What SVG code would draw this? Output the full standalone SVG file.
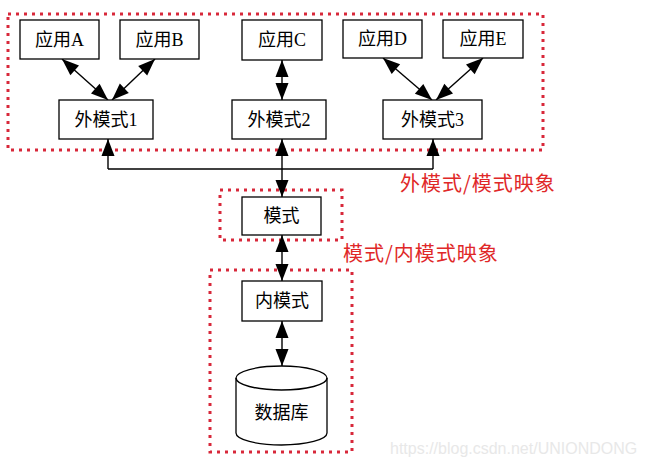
<svg xmlns="http://www.w3.org/2000/svg" width="650" height="466" viewBox="0 0 650 466">
<style>
.box{fill:#fff;stroke:#000;stroke-width:1.3}
.grp{fill:none;stroke:#d8283a;stroke-width:3;stroke-dasharray:3 5}
.t{font-family:"Liberation Serif","Noto Sans CJK SC",serif;font-size:18px;fill:#000;text-anchor:middle;dominant-baseline:central}
.r{font-family:"Noto Sans CJK SC",sans-serif;font-size:20px;letter-spacing:1px;fill:#e02828}
.ln{stroke:#000;stroke-width:1.4;fill:none}
</style>
<defs>
<marker id="ah" markerUnits="userSpaceOnUse" markerWidth="18" markerHeight="14" refX="17" refY="7" orient="auto-start-reverse" overflow="visible">
<path d="M0,0.5 L17,7 L0,13.5 Z" fill="#000"/>
</marker>
</defs>
<g id="groups">
<rect class="grp" x="8" y="14" width="535" height="136"/>
<rect class="grp" x="220" y="190" width="122" height="50"/>
<rect class="grp" x="210" y="270" width="142" height="182"/>
</g>
<g id="connectors">
<line class="ln" x1="62" y1="59" x2="108" y2="100" marker-start="url(#ah)" marker-end="url(#ah)"/>
<line class="ln" x1="155" y1="59" x2="112" y2="100" marker-start="url(#ah)" marker-end="url(#ah)"/>
<line class="ln" x1="282" y1="60" x2="282" y2="100" marker-start="url(#ah)" marker-end="url(#ah)"/>
<line class="ln" x1="383" y1="58" x2="432" y2="100" marker-start="url(#ah)" marker-end="url(#ah)"/>
<line class="ln" x1="483" y1="58" x2="436" y2="100" marker-start="url(#ah)" marker-end="url(#ah)"/>
<path class="ln" d="M108,169 H433"/>
<line class="ln" x1="108" y1="169" x2="108" y2="139" marker-end="url(#ah)"/>
<line class="ln" x1="433" y1="169" x2="433" y2="139" marker-end="url(#ah)"/>
<line class="ln" x1="282" y1="139" x2="282" y2="197" marker-start="url(#ah)" marker-end="url(#ah)"/>
<line class="ln" x1="282" y1="235" x2="282" y2="281" marker-start="url(#ah)" marker-end="url(#ah)"/>
<line class="ln" x1="282" y1="321" x2="282" y2="366" marker-start="url(#ah)" marker-end="url(#ah)"/>
</g>
<g id="appA"><rect class="box" x="20" y="20" width="79" height="39"/><text class="t" x="59.5" y="40">应用A</text></g>
<g id="appB"><rect class="box" x="120" y="20" width="79" height="39"/><text class="t" x="159.5" y="40">应用B</text></g>
<g id="appC"><rect class="box" x="242" y="20" width="80" height="40"/><text class="t" x="282" y="40">应用C</text></g>
<g id="appD"><rect class="box" x="343" y="20" width="79" height="38"/><text class="t" x="382.5" y="39">应用D</text></g>
<g id="appE"><rect class="box" x="443" y="20" width="80" height="38"/><text class="t" x="483" y="39">应用E</text></g>
<g id="ext1"><rect class="box" x="59" y="100" width="94" height="39"/><text class="t" x="106" y="120">外模式1</text></g>
<g id="ext2"><rect class="box" x="232" y="100" width="94" height="39"/><text class="t" x="279" y="120">外模式2</text></g>
<g id="ext3"><rect class="box" x="383" y="100" width="99" height="39"/><text class="t" x="432.5" y="120">外模式3</text></g>
<g id="schema"><rect class="box" x="242" y="197" width="79" height="38"/><text class="t" x="281.5" y="216">模式</text></g>
<g id="internal"><rect class="box" x="242" y="281" width="80" height="40"/><text class="t" x="282" y="301">内模式</text></g>
<g id="db">
<path class="box" d="M236,378 V433 A45.5,12 0 0 0 327,433 V378 A45.5,12 0 0 0 236,378 Z"/>
<path class="ln" d="M236,378 A45.5,12 0 0 0 327,378"/>
<text class="t" x="281.5" y="413">数据库</text>
</g>
<g id="labels">
<text class="r" x="400" y="191">外模式/模式映象</text>
<text class="r" x="343" y="261">模式/内模式映象</text>
<text x="390" y="454" font-family="Liberation Sans,sans-serif" font-size="16" fill="#e8e8e8">https://blog.csdn.net/UNIONDONG</text>
</g>
</svg>
